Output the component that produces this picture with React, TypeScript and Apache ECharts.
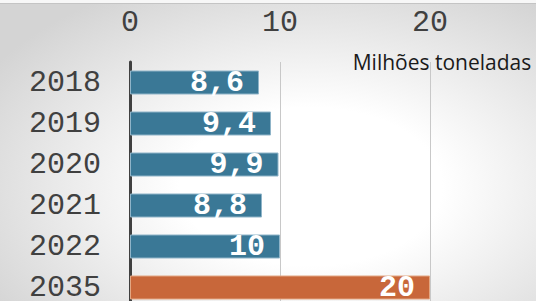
import React, { useEffect, useRef } from "react";
import * as echarts from "echarts";

const categories = ["2018", "2019", "2020", "2021", "2022", "2035"];
const values = [8.6, 9.4, 9.9, 8.8, 10, 20];
const barColors = ["#3a7896", "#3a7896", "#3a7896", "#3a7896", "#3a7896", "#c8673a"];
const barBorders = ["#8fb4c8", "#8fb4c8", "#8fb4c8", "#8fb4c8", "#8fb4c8", "#e3a783"];
const xTicks = [0, 10, 20];
const unitLabel = "Milhões toneladas";

export default function App() {
  const ref = useRef<HTMLDivElement>(null);
  useEffect(() => {
    if (!ref.current) return;
    const chart = echarts.init(ref.current, undefined, { renderer: "svg" });
    chart.setOption({
      animation: false,
      backgroundColor: "transparent",
      grid: { left: 130, top: 62, width: 300, height: 246, containLabel: false },
      xAxis: {
        type: "value",
        position: "top",
        min: xTicks[0],
        max: xTicks[xTicks.length - 1],
        interval: 10,
        axisLine: { show: false },
        axisTick: { show: false },
        axisLabel: {
          fontFamily: "Liberation Mono",
          fontSize: 30,
          color: "#404040",
          margin: 24,
        },
        splitLine: { show: true, lineStyle: { color: "#c8c8c8", width: 1 } },
      },
      yAxis: {
        type: "category",
        inverse: true,
        data: categories,
        axisLine: { show: true, lineStyle: { color: "#404040", width: 3 } },
        axisTick: { show: false },
        axisLabel: {
          fontFamily: "Liberation Mono",
          fontSize: 30,
          color: "#404040",
          margin: 29,
        },
      },
      graphic: [
        { type: "rect", shape: { x: 0, y: 0, width: 536, height: 3 }, style: { fill: "#f7f7f7" }, silent: true },
        { type: "line", shape: { x1: 0, y1: 3.5, x2: 536, y2: 3.5 }, style: { stroke: "#c4c4c4", lineWidth: 1 }, silent: true },
        {
          type: "text",
          x: 442,
          y: 72,
          style: {
            text: unitLabel,
            fontFamily: "Open Sans",
            fontSize: 21,
            fill: "#1a1a1a",
            textAlign: "center",
            textVerticalAlign: "bottom",
          },
          silent: true,
        },
      ],
      series: [
        {
          type: "bar",
          barWidth: 24,
          data: values.map((v, i) => ({
            value: v,
            itemStyle: { color: barColors[i], borderColor: barBorders[i], borderWidth: 1 },
          })),
          label: {
            show: true,
            position: "insideRight",
            distance: 15,
            fontFamily: "Liberation Mono",
            fontWeight: "bold",
            fontSize: 30,
            color: "#ffffff",
            formatter: (p: any) => String(p.value).replace(".", ","),
          },
        },
      ],
    });
    return () => chart.dispose();
  }, []);
  return (
    <div
      style={{
        position: "absolute",
        left: 0,
        top: 0,
        width: 536,
        height: 301,
        overflow: "hidden",
        background: "radial-gradient(ellipse 70% 75% at 58% 62%, #ffffff 35%, #d4d4d4 100%)",
      }}
    >
      <div ref={ref} style={{ width: 536, height: 320 }} />
    </div>
  );
}
